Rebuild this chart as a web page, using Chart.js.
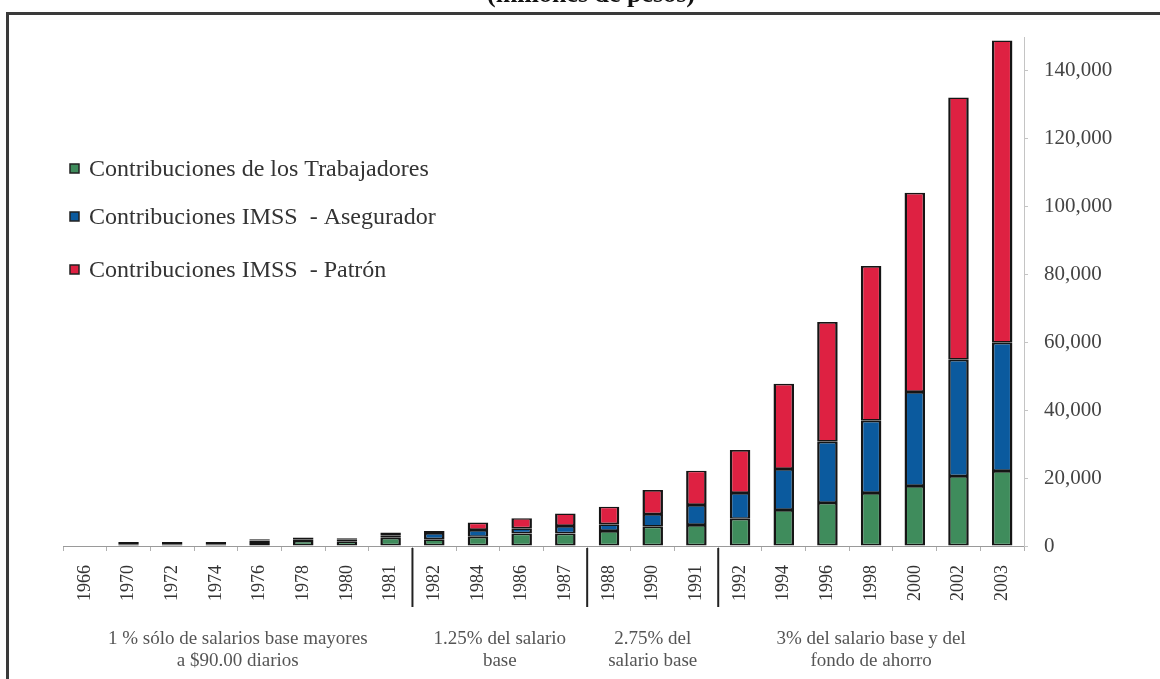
<!DOCTYPE html>
<html lang="es">
<head>
<meta charset="utf-8">
<title>Contribuciones IMSS</title>
<script src="https://cdn.jsdelivr.net/npm/chart.js@4/dist/chart.umd.min.js"></script>
<style>
  html, body { margin: 0; padding: 0; background: #fff; }
  #wrap { position: relative; width: 1160px; height: 679px; }
</style>
</head>
<body>
<div id="wrap"><canvas id="contribChart"></canvas></div>
<script>
// años del eje horizontal
const years = ['1966', '1970', '1972', '1974', '1976', '1978', '1980', '1981',
  '1982', '1984', '1986', '1987', '1988', '1990', '1991',
  '1992', '1994', '1996', '1998', '2000', '2002', '2003'];

// millones de pesos por año
const trabajadores = [0, 500, 500, 500, 1200, 1500, 1400, 2400,
  2000, 2700, 3700, 3700, 4400, 5700, 6200,
  8000, 10600, 12700, 15600, 17700, 20600, 22100];
const asegurador = [0, 350, 350, 350, 400, 500, 450, 800,
  1800, 2000, 1500, 2200, 2000, 3700, 5900,
  7600, 12100, 18000, 21300, 27700, 34300, 37800];
const patron = [0, 350, 350, 350, 400, 500, 450, 800,
  600, 2200, 3000, 3700, 5200, 7100, 10100,
  12700, 25100, 35300, 45600, 58700, 77300, 89100];

const seriesLabels = ['Contribuciones de los Trabajadores',
  'Contribuciones IMSS  - Asegurador',
  'Contribuciones IMSS  - Patrón'];

// valores marcados en el eje vertical
const yTicks = [0, 20000, 40000, 60000, 80000, 100000, 120000, 140000];

// periodos de cotización: primer año de cada tramo y su leyenda
const groupStart = ['1966', '1982', '1988', '1992'];
const groupLabels = [
  ['1 % sólo de salarios base mayores', 'a $90.00 diarios'],
  ['1.25% del salario', 'base'],
  ['2.75% del', 'salario base'],
  ['3% del salario base y del', 'fondo de ahorro']
];

const SERIF = '"Liberation Serif", "Times New Roman", serif';
const colors = ['#3f8c5c', '#0b5a9e', '#de2142'];

// marco, título, leyenda y separadores de periodos
const extras = {
  id: 'extras',
  afterDraw(chart) {
    const ctx = chart.ctx;
    const x = chart.scales.x;
    ctx.save();

    // marco superior e izquierdo
    ctx.strokeStyle = '#3a3a3a';
    ctx.lineWidth = 3;
    ctx.beginPath();
    ctx.moveTo(7.5, 679);
    ctx.lineTo(7.5, 13.5);
    ctx.lineTo(1160, 13.5);
    ctx.stroke();

    // título (recortado arriba)
    ctx.fillStyle = '#111';
    ctx.font = 'bold 26px ' + SERIF;
    ctx.textAlign = 'center';
    ctx.textBaseline = 'alphabetic';
    ctx.fillText('(millones de pesos)', 591, 2);

    // leyenda
    const legendY = [169, 217, 270];
    ctx.textAlign = 'left';
    ctx.textBaseline = 'middle';
    ctx.font = '24px ' + SERIF;
    chart.data.datasets.forEach((ds, i) => {
      ctx.fillStyle = ds.backgroundColor;
      ctx.fillRect(70, legendY[i] - 5, 9, 9);
      ctx.strokeStyle = '#222';
      ctx.lineWidth = 1.5;
      ctx.strokeRect(70, legendY[i] - 5, 9, 9);
      ctx.fillStyle = '#333';
      ctx.fillText(ds.label, 89, legendY[i] + 1);
    });

    // separadores y leyendas de cada periodo
    const step = x.getPixelForValue(1) - x.getPixelForValue(0);
    const starts = groupStart.map(y => years.indexOf(y));
    ctx.strokeStyle = '#222';
    ctx.lineWidth = 2;
    starts.forEach((s, g) => {
      const end = g + 1 < starts.length ? starts[g + 1] - 1 : years.length - 1;
      if (s > 0) {
        const bx = x.getPixelForValue(s) - step / 2;
        ctx.beginPath();
        ctx.moveTo(bx, 548);
        ctx.lineTo(bx, 607);
        ctx.stroke();
      }
      const cx = (x.getPixelForValue(s) + x.getPixelForValue(end)) / 2;
      ctx.fillStyle = '#555';
      ctx.font = '19px ' + SERIF;
      ctx.textAlign = 'center';
      groupLabels[g].forEach((line, k) => {
        ctx.fillText(line, cx, 639 + k * 22);
      });
    });
    ctx.restore();
  }
};

const ctx = document.getElementById('contribChart').getContext('2d');
const dataArrays = [trabajadores, asegurador, patron];

new Chart(ctx, {
  type: 'bar',
  data: {
    labels: years,
    datasets: dataArrays.map((d, i) => ({
      label: seriesLabels[i],
      data: d,
      backgroundColor: colors[i],
      borderColor: '#151515',
      borderWidth: { top: 1.7, bottom: 1.7, left: 2.5, right: 2.5 },
      borderSkipped: false,
      categoryPercentage: 1,
      barPercentage: 0.47
    }))
  },
  options: {
    responsive: true,
    maintainAspectRatio: false,
    animation: false,
    layout: { padding: { left: 63, top: 37, right: 0, bottom: 0 } },
    plugins: {
      legend: { display: false },
      title: { display: false },
      tooltip: { enabled: false }
    },
    scales: {
      x: {
        stacked: true,
        afterFit(scale) { scale.height = 133; },
        border: { display: true, color: '#9a9a9a', width: 1 },
        grid: { display: true, drawOnChartArea: false, offset: true, tickLength: 5, color: '#b0b0b0' },
        ticks: {
          minRotation: 90,
          maxRotation: 90,
          padding: 14,
          color: '#333',
          font: { family: SERIF, size: 18 }
        }
      },
      y: {
        stacked: true,
        position: 'right',
        min: 0,
        max: 150000,
        afterFit(scale) { scale.width = 136; },
        afterBuildTicks(scale) {
          scale.ticks = yTicks.map(v => ({ value: v }));
        },
        border: { display: true, color: '#c4c4c4', width: 1 },
        grid: { display: true, drawOnChartArea: false, tickLength: 4, color: '#c4c4c4' },
        ticks: {
          autoSkip: false,
          padding: 16,
          color: '#444',
          font: { family: SERIF, size: 21 },
          callback: v => String(v).replace(/\B(?=(\d{3})+(?!\d))/g, ',')
        }
      }
    }
  },
  plugins: [extras]
});
</script>
</body>
</html>
